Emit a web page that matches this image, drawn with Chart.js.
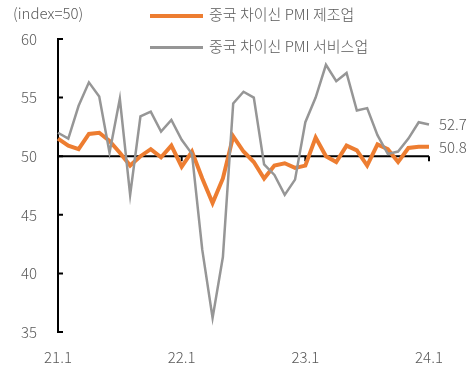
<!DOCTYPE html>
<html>
<head>
<meta charset="utf-8">
<script src="https://cdn.jsdelivr.net/npm/chart.js@4.4.1/dist/chart.umd.min.js"></script>
<style>
  html, body { margin: 0; padding: 0; background: #fff; }
  #wrap { position: relative; width: 474px; height: 378px; font-family: "Noto Sans CJK KR", "Noto Sans", sans-serif; font-weight: 300; color: #595959; }
  #unit { position: absolute; left: 13px; top: 2px; font-size: 15px; }
  .leg { position: absolute; left: 150px; font-size: 15px; white-space: nowrap; }
  .leg span.swatch { display: inline-block; width: 53px; vertical-align: middle; margin-right: 6px; }
</style>
</head>
<body>
<div id="wrap">
  <canvas id="pmiChart" width="474" height="378"></canvas>
  <div id="unit">(index=50)</div>
  <div class="leg" style="top:3px"><span class="swatch" style="height:4px;background:#ED7D31"></span>중국 차이신 PMI 제조업</div>
  <div class="leg" style="top:35px"><span class="swatch" style="height:3px;background:#969696"></span>중국 차이신 PMI 서비스업</div>
</div>
<script>
// 월별 카테고리 (21.1 ~ 24.1)
const years = [21, 22, 23, 24];
const tickLabels = ['21.1', '22.1', '23.1', '24.1'];
const labels = [];
years.forEach(function(y) {
  for (let m = 1; m <= 12; m++) {
    if (y === 24 && m > 1) break;
    labels.push(y + '.' + m);
  }
});

// 차이신 제조업 PMI
const manufacturing = [
  51.5, 50.9, 50.6, 51.9, 52.0, 51.3, 50.3, 49.2, 50.0, 50.6, 49.9, 50.9,
  49.1, 50.4, 48.1, 46.0, 48.1, 51.7, 50.4, 49.5, 48.1, 49.2, 49.4, 49.0,
  49.2, 51.6, 50.0, 49.5, 50.9, 50.5, 49.2, 51.0, 50.6, 49.5, 50.7, 50.8,
  50.8
];

// 차이신 서비스업 PMI
const services = [
  52.0, 51.5, 54.3, 56.3, 55.1, 50.3, 54.9, 46.7, 53.4, 53.8, 52.1, 53.1,
  51.4, 50.2, 42.0, 36.2, 41.4, 54.5, 55.5, 55.0, 49.3, 48.4, 46.7, 48.0,
  52.9, 55.0, 57.8, 56.4, 57.1, 53.9, 54.1, 51.8, 50.2, 50.4, 51.5, 52.9,
  52.7
];

const yTicks = [35, 40, 45, 50, 55, 60];

const orange = '#ED7D31';
const gray = '#969696';
const textColor = '#595959';
const fontFamily = '"Noto Sans CJK KR", "Noto Sans", sans-serif';

// 기준선(50), 축 눈금, 마지막 값 라벨
const decorations = {
  id: 'decorations',
  beforeDatasetsDraw: function(chart) {
    const ctx = chart.ctx;
    const x = chart.scales.x, y = chart.scales.y;
    const area = chart.chartArea;
    const y50 = y.getPixelForValue(50);
    ctx.save();
    ctx.strokeStyle = '#000';
    ctx.lineWidth = 2;
    ctx.beginPath();
    ctx.moveTo(area.left, y50);
    ctx.lineTo(area.right, y50);
    labels.forEach(function(l, i) {
      if (tickLabels.indexOf(l) > 0) {
        const px = x.getPixelForValue(i);
        ctx.moveTo(px, y50);
        ctx.lineTo(px, y50 + 5);
      }
    });
    ctx.stroke();
    // y축 안쪽 눈금
    ctx.beginPath();
    yTicks.forEach(function(v) {
      const py = y.getPixelForValue(v);
      ctx.moveTo(area.left, py);
      ctx.lineTo(area.left + 5, py);
    });
    ctx.stroke();
    ctx.restore();
  },
  afterDraw: function(chart) {
    const ctx = chart.ctx;
    const x = chart.scales.x, y = chart.scales.y;
    const last = labels.length - 1;
    ctx.save();
    ctx.font = '300 15px ' + fontFamily;
    ctx.fillStyle = textColor;
    ctx.textBaseline = 'middle';
    ctx.textAlign = 'left';
    ctx.fillText(services[last].toFixed(1), x.getPixelForValue(last) + 10, y.getPixelForValue(services[last]));
    ctx.fillText(manufacturing[last].toFixed(1), x.getPixelForValue(last) + 10, y.getPixelForValue(manufacturing[last]));
    ctx.restore();
  }
};

new Chart(document.getElementById('pmiChart'), {
  type: 'line',
  data: {
    labels: labels,
    datasets: [{
      label: '중국 차이신 PMI 서비스업',
      data: services,
      borderColor: gray,
      borderWidth: 2.5,
      pointRadius: 0,
      tension: 0,
    }, {
      label: '중국 차이신 PMI 제조업',
      data: manufacturing,
      borderColor: orange,
      borderWidth: 4,
      pointRadius: 0,
      tension: 0,
    }]
  },
  options: {
    responsive: false,
    animation: false,
    layout: {
      padding: { top: 39, right: 45, left: 0, bottom: 0 }
    },
    plugins: {
      legend: { display: false },
      title: { display: false },
      tooltip: { enabled: false },
    },
    scales: {
      x: {
        offset: false,
        grid: { display: false, drawTicks: false },
        border: { display: false },
        ticks: {
          autoSkip: false,
          maxRotation: 0,
          padding: 16,
          color: textColor,
          font: { family: fontFamily, size: 15, weight: '300' },
          callback: function(value, index) {
            const l = labels[index];
            return tickLabels.indexOf(l) >= 0 ? l : '';
          }
        },
        afterFit: function(scale) { scale.height = 46; }
      },
      y: {
        min: 35,
        max: 60,
        grid: { display: false, drawTicks: false },
        border: { display: true, color: '#000', width: 2 },
        ticks: {
          stepSize: 5,
          padding: 21,
          color: textColor,
          font: { family: fontFamily, size: 15, weight: '300' },
        },
        afterFit: function(scale) { scale.width = 58; }
      }
    }
  },
  plugins: [decorations]
});
</script>
</body>
</html>
